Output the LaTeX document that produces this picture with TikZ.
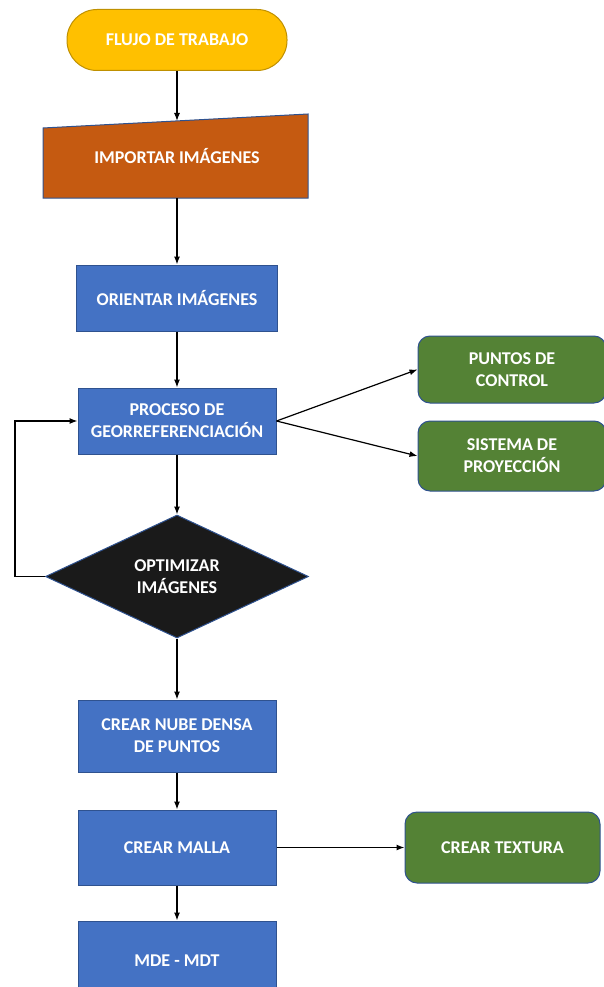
\documentclass[tikz,border=0pt]{standalone}
\usepackage{fontspec}
\setmainfont{Carlito}
\usetikzlibrary{shapes.geometric, arrows.meta}

\definecolor{goldfill}{HTML}{FFC000}
\definecolor{goldline}{HTML}{BF9000}
\definecolor{orangefill}{HTML}{C55A11}
\definecolor{bluefill}{HTML}{4472C4}
\definecolor{blueline}{HTML}{2F528F}
\definecolor{greenfill}{HTML}{548235}
\definecolor{darkfill}{HTML}{1A1A1A}

\begin{document}
\begin{tikzpicture}[x=1pt, y=-1pt, line width=1.2pt, >={Latex[length=8pt,width=6pt]},
  every node/.style={font=\fontsize{18}{22}\selectfont\bfseries, text=white, align=center, inner sep=0pt},
  startbox/.style={draw=goldline, fill=goldfill, line width=1pt, rounded corners=30pt, minimum width=220pt, minimum height=61pt},
  bluebox/.style={draw=blueline, fill=bluefill, line width=1pt, minimum width=198pt, minimum height=66pt},
  greenbox/.style={draw=blueline, fill=greenfill, line width=1pt, rounded corners=12pt, minimum width=188pt, minimum height=68pt},
  decision/.style={diamond, draw=blueline, fill=darkfill, line width=1pt, minimum width=263pt, minimum height=123pt}]
  \useasboundingbox (0,0) rectangle (604,987);

  % Start
  \node[startbox] (flujo) at (177,40) {FLUJO DE TRABAJO};

  % Manual input
  \draw[draw=blueline, fill=orangefill, line width=1pt] (43,128) -- (308,114) -- (308,198) -- (43,198) -- cycle;
  \node (importar) at (177,156) {IMPORTAR IMÁGENES};
  \coordinate (imptop) at (177,121);
  \coordinate (impbot) at (177,198);

  % Main steps
  \node[bluebox, minimum width=201pt] (orientar) at (177,298) {ORIENTAR IMÁGENES};
  \node[bluebox] (proceso) at (177,421) {PROCESO DE\\GEORREFERENCIACIÓN};
  \node[decision] (optimizar) at (177,576.5) {OPTIMIZAR\\IMÁGENES};
  \node[bluebox, minimum height=72pt] (nube) at (177,736) {CREAR NUBE DENSA\\DE PUNTOS};
  \node[bluebox, minimum height=75pt] (malla) at (177,847.5) {CREAR MALLA};
  \node[bluebox, minimum height=80pt] (mde) at (177,961) {MDE - MDT};

  % Side steps
  \node[greenbox, minimum height=67pt] (puntos) at (512,369.5) {PUNTOS DE\\CONTROL};
  \node[greenbox, minimum height=70pt] (sistema) at (512,456) {SISTEMA DE\\PROYECCIÓN};
  \node[greenbox, minimum width=195pt, minimum height=71pt] (textura) at (502.5,847.5) {CREAR TEXTURA};

  % Connectors
  \draw[->] (flujo) -- (imptop);
  \draw[->] (impbot) -- (orientar);
  \draw[->] (orientar) -- (proceso);
  \draw[->] (proceso.east) -- (puntos.west);
  \draw[->] (proceso.east) -- (sistema.west);
  \draw[->] (proceso) -- (optimizar);
  \coordinate (loop) at (15,576.5);
  \draw[->] (optimizar.west) -- (loop) |- (proceso.west);
  \draw[->] (optimizar) -- (nube);
  \draw[->] (nube) -- (malla);
  \draw[->] (malla) -- (textura);
  \draw[->] (malla) -- (mde);
\end{tikzpicture}
\end{document}
